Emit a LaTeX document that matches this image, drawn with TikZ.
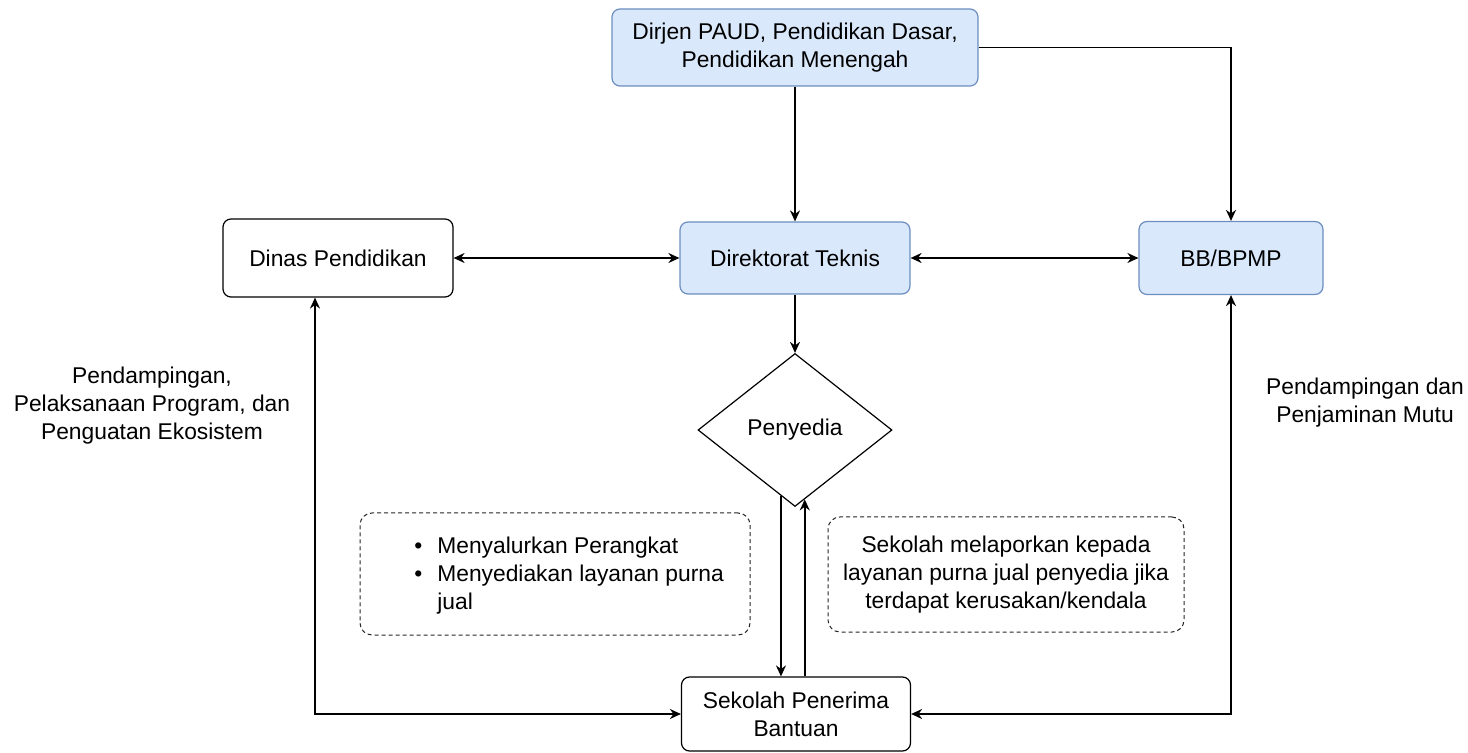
\documentclass[tikz,border=0pt]{standalone}
\usepackage{fontspec}
\setmainfont{Liberation Sans}
\usetikzlibrary{arrows.meta, shapes.geometric}
\definecolor{bluefill}{HTML}{DAE8FC}
\definecolor{blueline}{HTML}{6C8EBF}
\tikzset{>={Stealth[length=5.5pt, width=5pt, inset=1.8pt]}}
\tikzset{
  blok/.style={draw=black, rounded corners=4pt, line width=0.6pt, fill=white, align=center, inner sep=0pt},
  birublok/.style={blok, draw=blueline, fill=bluefill},
  catatan/.style={draw=black!85, dash pattern=on 2pt off 1.5pt, rounded corners=6pt, line width=0.5pt, align=center, inner sep=0pt},
  panah/.style={->, line width=0.8pt},
}

\begin{document}
\begin{tikzpicture}[x=0.5pt, y=-0.5pt, font=\fontsize{11.4}{14}\selectfont]
    \useasboundingbox (0,0) rectangle (1468,753);
    \node [birublok, minimum width=183pt, minimum height=38.5pt] (dirjen) at (795,47.5) {Dirjen PAUD, Pendidikan Dasar,\\Pendidikan Menengah};
    \node [blok, minimum width=115pt, minimum height=39pt] (dinas) at (338,258) {Dinas Pendidikan};
    \node [birublok, minimum width=115pt, minimum height=36pt] (teknis) at (795,258) {Direktorat Teknis};
    \node [birublok, minimum width=92pt, minimum height=36.5pt] (bb) at (1231,258) {BB/BPMP};
    \node [draw, diamond, fill=white, line width=0.6pt, minimum width=97pt, minimum height=76.5pt, inner sep=0pt] (penyedia) at (795,430) {Penyedia};
    \node [blok, minimum width=114.5pt, minimum height=37pt] (sekolah) at (796,714) {Sekolah Penerima\\Bantuan};
    \node [catatan, minimum width=195pt, minimum height=61pt] (tugas) at (555,574) {};
    \node [anchor=west, inner sep=0pt] (daftar) at (414,576) {\begin{tabular}{@{}l@{\hskip 7.5pt}l@{}}
        \textbullet & Menyalurkan Perangkat\\
        \textbullet & Menyediakan layanan purna\\
        & jual
    \end{tabular}};
    \node [catatan, minimum width=178pt, minimum height=57.5pt] (laporan) at (1006,574.5) {Sekolah melaporkan kepada\\layanan purna jual penyedia jika\\terdapat kerusakan/kendala};
    \node [align=center] (labelkiri) at (152,406) {Pendampingan,\\Pelaksanaan Program, dan\\Penguatan Ekosistem};
    \node [align=center] (labelkanan) at (1365,403) {Pendampingan dan\\Penjaminan Mutu};

    \draw [panah] (dirjen) -- (teknis);
    \draw [panah] (dirjen.east) -| (bb.north);
    \draw [panah, <->] (dinas) -- (teknis);
    \draw [panah, <->] (teknis) -- (bb);
    \draw [panah] (teknis) -- (penyedia);
    \draw [panah] (penyedia.258) -- (penyedia.258 |- sekolah.north);
    \draw [panah] (penyedia.278 |- sekolah.north) -- (penyedia.278);
    \draw [panah, <->] ([xshift=-11.5pt]dinas.south) |- (sekolah.west);
    \draw [panah, <->] (bb.south) |- (sekolah.east);
\end{tikzpicture}
\end{document}
